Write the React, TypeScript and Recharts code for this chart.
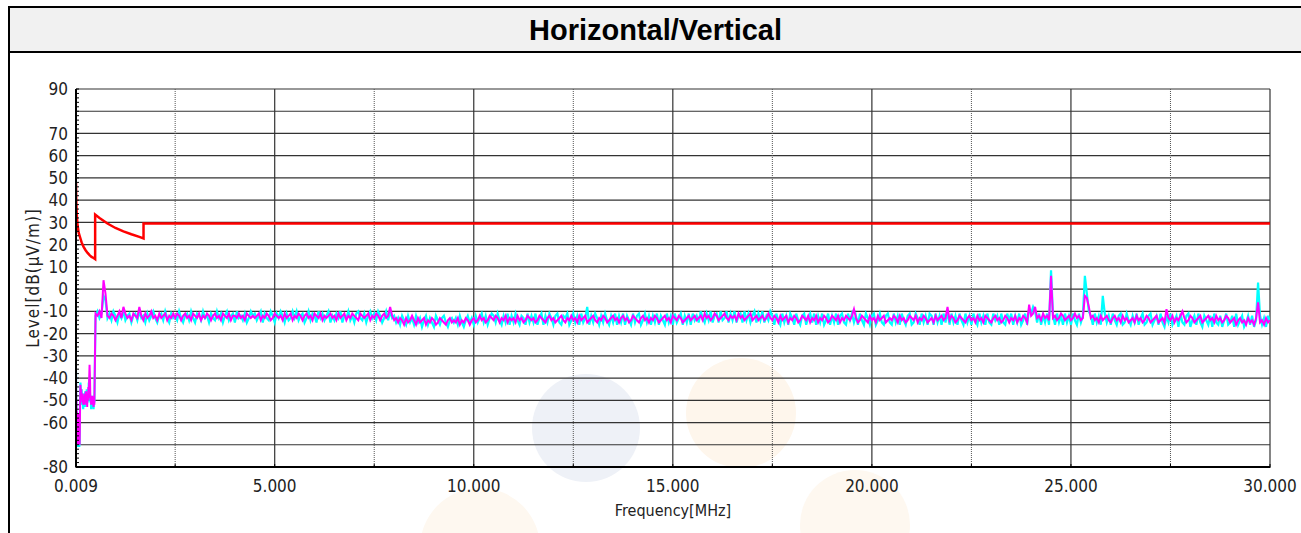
import { LineChart, Line, XAxis, YAxis, CartesianGrid } from "recharts";

// limit line (red)
const limitFreq = [0.009, 0.015, 0.025, 0.035, 0.05, 0.075, 0.1, 0.15, 0.2, 0.25, 0.3, 0.35, 0.4, 0.45, 0.49, 0.49, 0.6, 0.8, 1.0, 1.2, 1.4, 1.6, 1.705, 1.705, 30];
const limitLevel = [48, 40, 35, 31.5, 28.5, 25.5, 24, 21, 19, 17.5, 16.3, 15.3, 14.5, 14, 13.5, 33.5, 32, 29.5, 27.5, 26, 24.7, 23.5, 22.8, 29.5, 29.5];

// low band, 9 kHz - 470 kHz
const lowFreq = [
  0.009, 0.012, 0.016, 0.02, 0.025, 0.03, 0.035, 0.04, 0.045, 0.05, 0.055, 0.06, 0.065, 0.07, 0.075, 0.08, 0.085, 0.09, 0.095, 0.1, 0.105, 0.11,
  0.12, 0.13, 0.14, 0.15, 0.16, 0.17, 0.18, 0.19, 0.2, 0.21, 0.22, 0.23, 0.24, 0.25, 0.26, 0.27, 0.28, 0.29, 0.3, 0.31, 0.32, 0.33, 0.34, 0.35,
  0.36, 0.37, 0.38, 0.39, 0.4, 0.41, 0.42, 0.43, 0.44, 0.45, 0.46, 0.47,
];
const lowHoriz = [
  -37, -48, -55, -60, -58, -65, -62, -69, -64, -71, -66, -60, -70, -64, -71, -67, -61, -71, -66, -70, -60, -52,
  -42, -46, -49, -45, -52, -48, -50, -54, -47, -51, -49, -53, -46, -50, -48, -52, -45, -49, -51, -47, -50, -42, -45, -40,
  -47, -51, -49, -54, -48, -50, -53, -49, -51, -54, -49, -51,
];
const lowVert = [
  -36, -45, -58, -50, -62, -55, -66, -60, -68, -57, -70, -63, -56, -69, -60, -70, -62, -68, -57, -70, -64, -55,
  -43, -48, -45, -50, -47, -51, -48, -52, -49, -51, -47, -52, -49, -50, -46, -51, -48, -53, -47, -50, -44, -49, -40, -34,
  -40, -50, -48, -52, -49, -51, -48, -52, -50, -53, -50, -52,
];

// sweep 0.5 - 30 MHz, 50 kHz steps (one row per MHz)
const sweepStart = 0.5;
const sweepStep = 0.05;
const horizLevel = [
  -12, -10, -13, -11, -3, -5, -13, -11, -14, -10, -12, -15, -11, -13, -10, -14, -12, -11, -15, -12,
  -11, -14, -10, -13, -12, -15, -11, -14, -12, -10, -13, -15, -12, -11, -14, -10, -13, -15, -11, -13,
  -12, -14, -10, -13, -15, -12, -11, -14, -10, -13, -15, -11, -12, -14, -10, -13, -12, -15, -11, -13,
  -14, -10, -13, -11, -15, -12, -10, -14, -12, -11, -15, -10, -13, -12, -14, -11, -15, -13, -10, -12,
  -11, -14, -12, -10, -15, -11, -13, -14, -10, -12, -15, -11, -13, -10, -12, -15, -11, -14, -13, -10,
  -13, -10, -14, -12, -11, -15, -13, -10, -14, -11, -12, -15, -10, -13, -11, -14, -12, -10, -15, -12,
  -14, -11, -13, -10, -15, -12, -13, -10, -14, -12, -15, -11, -10, -13, -14, -11, -15, -12, -10, -13,
  -11, -14, -10, -12, -15, -13, -10, -14, -10, -13, -12, -15, -13, -16, -12, -14, -16, -12, -15, -13,
  -16, -12, -15, -13, -17, -14, -12, -16, -13, -15, -17, -12, -14, -16, -13, -12, -15, -17, -14, -13,
  -15, -13, -16, -12, -15, -17, -14, -12, -15, -13, -16, -12, -15, -13, -11, -15, -12, -16, -13, -11,
  -12, -15, -11, -14, -16, -12, -15, -11, -16, -12, -15, -11, -14, -16, -12, -13, -16, -11, -15, -12,
  -15, -11, -16, -13, -11, -16, -12, -15, -11, -13, -16, -12, -11, -15, -16, -12, -13, -11, -16, -14,
  -11, -15, -12, -16, -11, -15, -13, -8, -16, -12, -15, -11, -13, -16, -12, -15, -11, -14, -16, -12,
  -15, -11, -16, -12, -15, -11, -16, -12, -14, -16, -11, -15, -12, -11, -16, -14, -11, -15, -12, -16,
  -12, -15, -11, -16, -12, -14, -16, -11, -15, -12, -16, -11, -15, -13, -11, -16, -12, -15, -11, -16,
  -11, -14, -12, -15, -10, -13, -15, -11, -14, -10, -15, -12, -11, -15, -10, -14, -13, -10, -15, -11,
  -14, -10, -15, -12, -11, -15, -10, -14, -11, -15, -12, -10, -15, -11, -14, -10, -15, -12, -14, -10,
  -12, -16, -11, -14, -16, -11, -15, -12, -16, -11, -13, -16, -11, -14, -16, -12, -11, -16, -13, -11,
  -15, -11, -16, -12, -15, -11, -16, -14, -11, -16, -12, -15, -11, -16, -12, -11, -15, -16, -11, -14,
  -11, -15, -12, -16, -11, -14, -16, -11, -13, -16, -12, -11, -16, -14, -11, -15, -16, -12, -11, -15,
  -16, -11, -15, -12, -16, -11, -14, -16, -12, -11, -16, -15, -11, -13, -16, -11, -15, -12, -16, -11,
  -12, -16, -11, -15, -12, -16, -11, -15, -10, -16, -11, -15, -12, -16, -11, -14, -16, -11, -15, -12,
  -16, -11, -14, -16, -11, -15, -12, -16, -11, -15, -16, -11, -14, -12, -16, -11, -15, -16, -11, -14,
  -11, -16, -12, -15, -11, -16, -14, -11, -16, -9, -11, -8, -10, -15, -11, -16, -12, -15, -11, -16,
  8.5, -12, -16, -11, -15, -12, -16, -11, -15, -12, -16, -11, -14, -16, -11, -15, -12, 6, -2, -10,
  -12, -16, -11, -15, -12, -16, -3, -11, -15, -12, -16, -11, -14, -16, -12, -11, -16, -15, -11, -14,
  -16, -12, -15, -11, -16, -13, -11, -16, -15, -12, -11, -16, -14, -12, -16, -11, -15, -17, -12, -15,
  -11, -16, -14, -12, -17, -11, -15, -16, -12, -11, -17, -14, -12, -16, -11, -15, -17, -12, -14, -16,
  -12, -17, -11, -15, -16, -12, -17, -14, -11, -16, -15, -12, -17, -11, -16, -14, -12, -17, -15, -12,
  -16, -12, -17, -14, 3, -12, -16, -13, -17, -12, -15,
];
const vertLevel = [
  -11, -12, -10, -13, 4, -2, -12, -13, -11, -12, -14, -12, -10, -13, -8, -11, -13, -12, -14, -11,
  -12, -13, -8, -12, -14, -11, -13, -12, -10, -13, -12, -14, -11, -13, -12, -11, -14, -12, -13, -11,
  -13, -11, -12, -14, -12, -11, -13, -12, -14, -11, -12, -13, -11, -14, -12, -13, -11, -12, -14, -12,
  -11, -13, -12, -14, -11, -12, -13, -11, -14, -12, -12, -13, -11, -13, -12, -14, -11, -12, -13, -12,
  -13, -12, -11, -14, -12, -13, -11, -12, -14, -13, -11, -12, -13, -12, -14, -11, -13, -12, -11, -14,
  -12, -13, -11, -12, -14, -12, -11, -13, -12, -14, -11, -12, -13, -11, -14, -12, -13, -12, -11, -13,
  -12, -14, -11, -13, -12, -11, -14, -12, -13, -11, -12, -13, -14, -11, -12, -13, -12, -11, -14, -12,
  -13, -11, -12, -14, -12, -11, -13, -12, -8, -12, -14, -13, -15, -13, -14, -16, -13, -15, -14, -12,
  -14, -16, -13, -15, -14, -13, -16, -14, -15, -13, -14, -16, -15, -13, -14, -15, -16, -14, -13, -15,
  -14, -15, -13, -16, -14, -15, -13, -14, -16, -14, -13, -15, -14, -12, -14, -13, -15, -14, -12, -13,
  -14, -12, -13, -15, -13, -14, -12, -15, -13, -14, -13, -15, -12, -14, -13, -15, -14, -12, -13, -14,
  -13, -15, -14, -12, -13, -14, -15, -13, -12, -14, -13, -15, -14, -13, -12, -14, -15, -13, -14, -12,
  -14, -13, -15, -12, -14, -13, -12, -15, -14, -13, -12, -14, -15, -13, -14, -12, -13, -15, -14, -13,
  -12, -14, -13, -15, -13, -12, -14, -13, -15, -14, -12, -13, -14, -15, -13, -12, -14, -13, -15, -13,
  -14, -12, -13, -15, -14, -13, -12, -14, -13, -15, -12, -13, -14, -12, -13, -15, -14, -13, -12, -14,
  -13, -12, -14, -13, -12, -14, -11, -13, -12, -14, -13, -11, -12, -14, -13, -12, -11, -13, -14, -12,
  -13, -12, -14, -11, -13, -12, -14, -13, -12, -11, -14, -13, -12, -14, -13, -12, -14, -13, -11, -13,
  -14, -12, -13, -15, -12, -14, -13, -12, -15, -13, -14, -12, -13, -15, -14, -12, -13, -14, -12, -15,
  -13, -14, -12, -15, -13, -14, -12, -13, -15, -14, -12, -13, -14, -12, -15, -13, -14, -12, -13, -14,
  -12, -9, -13, -15, -14, -12, -13, -14, -15, -12, -14, -13, -15, -12, -14, -13, -12, -15, -14, -13,
  -14, -12, -13, -15, -12, -14, -13, -15, -14, -12, -13, -14, -12, -15, -13, -14, -12, -13, -15, -14,
  -13, -15, -12, -14, -13, -12, -14, -13, -8, -14, -12, -13, -15, -14, -12, -13, -14, -15, -13, -12,
  -14, -13, -15, -12, -14, -13, -15, -12, -13, -14, -15, -13, -12, -14, -13, -15, -14, -12, -13, -15,
  -13, -14, -12, -15, -13, -14, -12, -13, -15, -7, -12, -11, -8, -13, -12, -14, -11, -13, -12, -14,
  6, -13, -12, -14, -13, -11, -12, -14, -13, -12, -14, -13, -11, -13, -12, -14, -13, -3, -4, -8,
  -13, -12, -14, -13, -15, -12, -14, -13, -12, -14, -15, -13, -12, -14, -13, -15, -12, -14, -13, -15,
  -14, -13, -15, -12, -14, -13, -15, -14, -12, -13, -15, -14, -13, -12, -15, -14, -13, -15, -9, -13,
  -14, -12, -15, -13, -14, -12, -10, -13, -15, -14, -12, -13, -15, -14, -13, -12, -15, -14, -13, -12,
  -14, -13, -15, -12, -14, -13, -15, -14, -12, -13, -15, -14, -13, -16, -14, -13, -15, -14, -16, -13,
  -15, -14, -16, -13, -6, -15, -14, -16, -13, -15, -14,
];

const xTicks = [0.009, 2.5, 5, 7.5, 10, 12.5, 15, 17.5, 20, 22.5, 25, 27.5, 30];
const xSolid = [5, 10, 15, 20, 25, 30];
const xDotted = [2.5, 7.5, 12.5, 17.5, 22.5, 27.5];
const yGrid = [-80, -70, -60, -50, -40, -30, -20, -10, 0, 10, 20, 30, 40, 50, 60, 70, 80, 90];
const yLabels = [90, 70, 60, 50, 40, 30, 20, 10, 0, -10, -20, -30, -40, -50, -60, -80];
const yMinor: number[] = [];
for (let v = -80; v <= 90; v += 2) yMinor.push(v);

const sweepFreq = horizLevel.map((_, i) => +(sweepStart + i * sweepStep).toFixed(3));
const limitData = limitFreq.map((f, i) => ({ f, v: limitLevel[i] }));
const horizData = lowFreq.map((f, i) => ({ f, v: lowHoriz[i] })).concat(sweepFreq.map((f, i) => ({ f, v: horizLevel[i] })));
const vertData = lowFreq.map((f, i) => ({ f, v: lowVert[i] })).concat(sweepFreq.map((f, i) => ({ f, v: vertLevel[i] })));

const FONT = "'Liberation Sans Narrow', 'DejaVu Sans Condensed', 'Arial Narrow', sans-serif";

const YTick = (props: any) => {
  const { x, y, payload } = props;
  const v = payload.value;
  return (
    <g>
      <line x1={x + 8} x2={x + 11} y1={y} y2={y} stroke="#000" strokeWidth={1} />
      {yLabels.includes(v) && (
        <text x={x} y={y} dy="0.36em" textAnchor="end" fontSize={17} fill="#222" fontFamily={FONT}>
          {v}
        </text>
      )}
    </g>
  );
};

const XTick = (props: any) => {
  const { x, y, payload } = props;
  const v = payload.value;
  const label = v === 0.009 ? "0.009" : v % 5 === 0 ? v.toFixed(3) : "";
  return (
    <g>
      <line x1={x} x2={x} y1={y - 12} y2={y - 16} stroke="#000" strokeWidth={1} />
      {label && (
        <text x={x} y={y} dy="0.71em" textAnchor="middle" fontSize={17} fill="#222" fontFamily={FONT}>
          {label}
        </text>
      )}
    </g>
  );
};

export default function App() {
  return (
    <div style={{ position: "absolute", left: 0, top: 0, width: 1301, height: 533, overflow: "hidden", background: "#fff" }}>
      {/* watermark */}
      <div style={{ position: "absolute", left: 532, top: 374, width: 108, height: 108, borderRadius: "50%", background: "#eef1f7" }} />
      <div style={{ position: "absolute", left: 686, top: 358, width: 110, height: 110, borderRadius: "50%", background: "#fef6ec" }} />
      <div style={{ position: "absolute", left: 420, top: 488, width: 120, height: 120, borderRadius: "50%", background: "#fef8f0" }} />
      <div style={{ position: "absolute", left: 800, top: 470, width: 110, height: 110, borderRadius: "50%", background: "#fef8f0" }} />

      {/* frame + title */}
      <div style={{ position: "absolute", left: 8, top: 6, width: 2, height: 527, background: "#000" }} />
      <div style={{ position: "absolute", left: 8, top: 6, width: 1293, height: 2, background: "#000" }} />
      <div
        style={{
          position: "absolute",
          left: 10,
          top: 8,
          width: 1291,
          height: 43,
          background: "#f1f1f1",
          borderBottom: "2px solid #000",
          textAlign: "center",
          lineHeight: "44px",
          fontFamily: "'Liberation Sans', Arial, sans-serif",
          fontWeight: "bold",
          fontSize: 29,
          color: "#000",
        }}
      >
        Horizontal/Vertical
      </div>

      <div style={{ position: "absolute", left: 0, top: 53 }}>
        <LineChart width={1301} height={480} margin={{ top: 36, right: 31, bottom: 0, left: 0 }}>
          <CartesianGrid horizontalValues={yGrid} verticalValues={xSolid} stroke="#333" strokeWidth={1.2} />
          <CartesianGrid horizontal={false} verticalValues={xDotted} stroke="#555" strokeDasharray="1 1" />
          <XAxis
            type="number"
            dataKey="f"
            domain={[0.009, 30]}
            ticks={xTicks}
            allowDataOverflow
            height={66}
            tickSize={0}
            tickMargin={13}
            tick={<XTick />}
            axisLine={{ stroke: "#000", strokeWidth: 2 }}
            tickLine={false}
            interval={0}
          />
          <YAxis
            type="number"
            domain={[-80, 90]}
            ticks={yMinor}
            allowDataOverflow
            width={76}
            tickSize={0}
            tickMargin={8}
            tick={<YTick />}
            axisLine={{ stroke: "#000", strokeWidth: 2 }}
            tickLine={false}
            interval={0}
          />
          <Line data={limitData} dataKey="v" type="linear" stroke="#ff0000" strokeWidth={2.5} dot={false} isAnimationActive={false} />
          <Line data={horizData} dataKey="v" type="linear" stroke="#00ffff" strokeWidth={2.2} dot={false} isAnimationActive={false} />
          <Line data={vertData} dataKey="v" type="linear" stroke="#ff00ff" strokeWidth={2} dot={false} isAnimationActive={false} />
        </LineChart>
      </div>

      {/* axis titles */}
      <div
        style={{
          position: "absolute",
          left: 33,
          top: 278,
          transform: "translate(-50%, -50%) rotate(-90deg)",
          whiteSpace: "nowrap",
          fontFamily: FONT,
          fontSize: 17,
          letterSpacing: 1,
          color: "#222",
        }}
      >
        Level[dB(μV/m)]
      </div>
      <div
        style={{
          position: "absolute",
          left: 673,
          top: 510,
          transform: "translate(-50%, -50%)",
          whiteSpace: "nowrap",
          fontFamily: FONT,
          fontSize: 16,
          color: "#222",
        }}
      >
        Frequency[MHz]
      </div>
    </div>
  );
}
